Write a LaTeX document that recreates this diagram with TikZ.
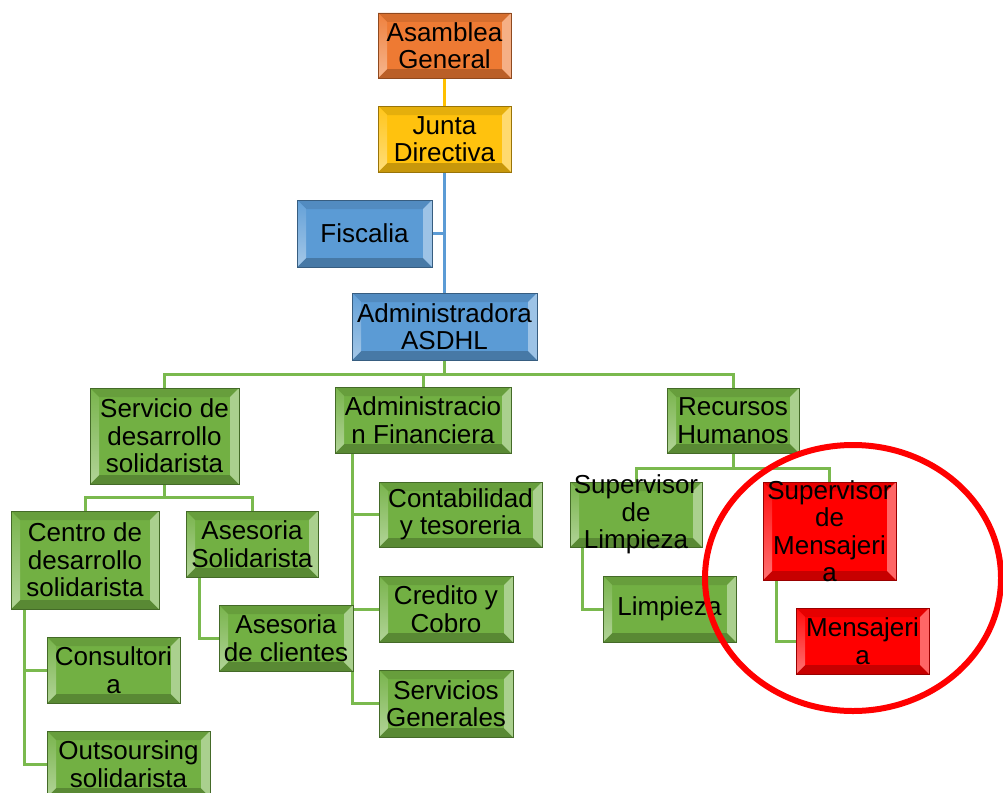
\documentclass[tikz,border=0pt]{standalone}
\usepackage{fontspec}
\setmainfont{Liberation Sans}
\usetikzlibrary{backgrounds}

\definecolor{cOrange}{HTML}{EE7A33}
\definecolor{cGold}{HTML}{FFC20E}
\definecolor{cBlue}{HTML}{5B9BD5}
\definecolor{cGreen}{HTML}{72B043}
\definecolor{cRed}{HTML}{FF0000}
\definecolor{lineGreen}{HTML}{7AB94E}
\definecolor{lineGold}{HTML}{FFC000}
\definecolor{lineBlue}{HTML}{5B9BD5}

\tikzset{
  % bevelled box, light coming from the right
  box/.style={rectangle, inner sep=0pt, draw=#1!60!black, line width=0.6pt,
    fill=#1, align=center, text=black,
    font=\fontsize{26}{27.5}\selectfont,
    path picture={
      \path (path picture bounding box.north west) coordinate (Pa)
            (path picture bounding box.north east) coordinate (Pb)
            (path picture bounding box.south east) coordinate (Pc)
            (path picture bounding box.south west) coordinate (Pd);
      \fill[#1!90!black] (Pa) -- (Pb) -- ([shift={(-9pt,-9pt)}]Pb)
            -- ([shift={(9pt,-9pt)}]Pa) -- cycle;
      \fill[#1!78!black] (Pd) -- (Pc) -- ([shift={(-9pt,9pt)}]Pc)
            -- ([shift={(9pt,9pt)}]Pd) -- cycle;
      \shade[top color=#1!95!white, bottom color=#1!55!white]
            (Pa) -- ([shift={(9pt,-9pt)}]Pa) -- ([shift={(9pt,9pt)}]Pd)
            -- (Pd) -- cycle;
      \shade[top color=#1!60!white, middle color=#1!25!white,
             bottom color=#1!60!white]
            (Pb) -- ([shift={(-9pt,-9pt)}]Pb) -- ([shift={(-9pt,9pt)}]Pc)
            -- (Pc) -- cycle;
    }},
  sz/.style 2 args={minimum width=#1pt, minimum height=#2pt},
  txt/.style={inner sep=0pt, align=center, text=black,
    font=\fontsize{26}{27.5}\selectfont},
  conn/.style={draw=#1, line width=3pt},
}

\begin{document}
\begin{tikzpicture}[x=1pt, y=-1pt]
\useasboundingbox (0,0) rectangle (1003,792);
\clip (0,0) rectangle (1003,792);

% top of the chart
\node[box=cOrange, sz={133}{65}] (asm) at (444.5,45.5) {Asamblea\\General};
\node[box=cGold,   sz={133}{66}] (jun) at (444.5,139)  {Junta\\Directiva};
\node[box=cBlue,   sz={135}{67}] (fis) at (364.5,233.5) {Fiscalia};
\node[box=cBlue,   sz={185}{67}] (adm) at (444.5,326.5) {Administradora\\ASDHL};

% departments
\node[box=cGreen, sz={149}{96}] (srv) at (164.5,436) {Servicio de\\desarrollo\\solidarista};
\node[box=cGreen, sz={176}{66}] (afi) at (423,420)   {Administracio\\n Financiera};
\node[box=cGreen, sz={132}{65}] (rrh) at (733,420.5) {Recursos\\Humanos};

% under Servicio de desarrollo solidarista
\node[box=cGreen, sz={148}{98}] (cen) at (85,560)    {Centro de\\desarrollo\\solidarista};
\node[box=cGreen, sz={132}{66}] (aso) at (252,544)   {Asesoria\\Solidarista};
\node[box=cGreen, sz={133}{66}] (con) at (113.5,670) {Consultori\\a};
\node[box=cGreen, sz={163}{66}] (out) at (128.5,764) {Outsoursing\\solidarista};
\node[box=cGreen, sz={134}{66}] (acl) at (286,638)   {Asesoria\\de clientes};

% under Administracion Financiera
\node[box=cGreen, sz={163}{65}] (cyt) at (460.5,514.5) {Contabilidad\\y tesoreria};
\node[box=cGreen, sz={134}{66}] (cyc) at (446,609)     {Credito y\\Cobro};
\node[box=cGreen, sz={134}{67}] (sge) at (446,703.5)   {Servicios\\Generales};

% under Recursos Humanos
\node[box=cGreen, sz={132}{65}] (spl) at (636,514.5) {};
\node[txt] (spltxt) at (spl.center) {Supervisor\\de\\Limpieza};
\node[box=cGreen, sz={133}{66}] (lim) at (669.5,609) {Limpieza};
\node[box=cRed,   sz={133}{98}] (spm) at (829.5,531) {};
\node[txt] (spmtxt) at (spm.center) {Supervisor\\de\\Mensajeri\\a};
\node[box=cRed,   sz={133}{66}] (men) at (862.5,641) {Mensajeri\\a};

% connectors behind the boxes
\begin{scope}[on background layer]
  \coordinate (busA) at (444.5,374);
  \coordinate (busB) at (164.5,497);
  \coordinate (busC) at (733,468);

  \draw[conn=lineGold] (asm.south) -- (jun.north);
  \draw[conn=lineBlue] (jun.south) -- (adm.north);
  \draw[conn=lineBlue] (fis.east) -- (fis.east -| jun.south);

  \draw[conn=lineGreen] (adm.south) -- (busA);
  \draw[conn=lineGreen] (srv.north) -- (srv.north |- busA)
        -- (rrh.north |- busA) -- (rrh.north);
  \draw[conn=lineGreen] (afi.north) -- (afi.north |- busA);

  \draw[conn=lineGreen] (srv.south) -- (busB);
  \draw[conn=lineGreen] (cen.north) -- (cen.north |- busB)
        -- (aso.north |- busB) -- (aso.north);
  \draw[conn=lineGreen] ([xshift=14pt]cen.south west) |- (con.west);
  \draw[conn=lineGreen] ([xshift=14pt]cen.south west) |- (out.west);
  \draw[conn=lineGreen] ([xshift=14pt]aso.south west) |- (acl.west);

  \draw[conn=lineGreen] ([xshift=18pt]afi.south west) |- (cyt.west);
  \draw[conn=lineGreen] ([xshift=18pt]afi.south west) |- (cyc.west);
  \draw[conn=lineGreen] ([xshift=18pt]afi.south west) |- (sge.west);

  \draw[conn=lineGreen] (rrh.south) -- (busC);
  \draw[conn=lineGreen] (spl.north) -- (spl.north |- busC)
        -- (spm.north |- busC) -- (spm.north);
  \draw[conn=lineGreen] ([xshift=13pt]spl.south west) |- (lim.west);
  \draw[conn=lineGreen] ([xshift=14pt]spm.south west) |- (men.west);
\end{scope}

% highlight ring
\draw[cRed, line width=6pt] (853,578) ellipse [x radius=148pt, y radius=133pt];
\end{tikzpicture}
\end{document}
